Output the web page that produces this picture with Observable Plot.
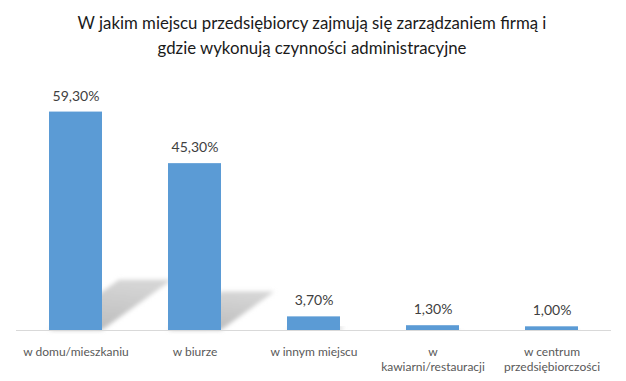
<!DOCTYPE html>
<html>
<head>
<meta charset="utf-8">
<script src="https://cdn.jsdelivr.net/npm/d3@7"></script>
<script src="https://cdn.jsdelivr.net/npm/@observablehq/plot@0.6"></script>
<style>
  html, body { margin: 0; padding: 0; background: #fff; }
  #wrap { position: relative; width: 626px; height: 381px; overflow: hidden; }
  #title { position: absolute; left: 0; top: 10px; width: 624px; text-align: center;
    font-family: Lato, "Open Sans", sans-serif; font-size: 16.8px; line-height: 25px; color: #1a1a1a; }
  #chart { position: absolute; left: 0; top: 72px; }
</style>
</head>
<body>
<div id="wrap">
  <div id="title">W jakim miejscu przedsiębiorcy zajmują się zarządzaniem firmą i<br>gdzie wykonują czynności administracyjne</div>
  <div id="chart"></div>
</div>
<script>
const categories = ["w domu/mieszkaniu", "w biurze", "w innym miejscu", "w kawiarni/restauracji", "w centrum przedsiębiorczości"];
const tickLabels = ["w domu/mieszkaniu", "w biurze", "w innym miejscu", "w\nkawiarni/restauracji", "w centrum\nprzedsiębiorczości"];
const values = [59.3, 45.3, 3.7, 1.3, 1.0];
const valueLabels = ["59,30%", "45,30%", "3,70%", "1,30%", "1,00%"];

const data = categories.map((c, i) => ({category: c, value: values[i], label: valueLabels[i]}));

function shadowMark(index, scales) {
  const g = d3.create("svg:g");
  const defs = g.append("defs");
  const f = defs.append("filter").attr("id", "shblur").attr("x", "-20%").attr("y", "-20%").attr("width", "140%").attr("height", "140%");
  f.append("feGaussianBlur").attr("stdDeviation", 2.2);
  const gr = defs.append("linearGradient").attr("id", "shgrad").attr("x1", 0).attr("y1", 1).attr("x2", 0.3).attr("y2", 0);
  gr.append("stop").attr("offset", "0%").attr("stop-color", "#bababa");
  gr.append("stop").attr("offset", "100%").attr("stop-color", "#d4d4d4");
  const bw = scales.x.bandwidth();
  const base = scales.y(0);
  for (const d of data) {
    const x0 = scales.x(d.category), x1 = x0 + bw;
    const h = base - scales.y(d.value);
    const sh = h * 0.23, shift = h * 0.32;
    const pts = [[x0, base], [x1, base], [x1 + shift, base - sh], [x0 + shift, base - sh]];
    g.append("polygon").attr("points", pts.map(p => p.join(",")).join(" "))
      .attr("fill", "url(#shgrad)").attr("filter", "url(#shblur)");
  }
  return g.node();
}

const chart = Plot.plot({
  width: 626,
  height: 309,
  marginLeft: 16,
  marginRight: 15,
  marginTop: 37,
  marginBottom: 51,
  style: {fontFamily: "Lato, 'Open Sans', sans-serif", background: "#fff"},
  x: {domain: categories, paddingInner: 0.555, paddingOuter: 0.277, label: null},
  y: {domain: [0, 60], axis: null},
  marks: [
    shadowMark,
    Plot.barY(data, {x: "category", y: "value", fill: "#5b9bd5"}),
    Plot.ruleY([0], {stroke: "#d9d9d9", strokeWidth: 1}),
    Plot.text(data, {x: "category", y: "value", text: "label", dy: -16, fontSize: 14, fill: "#404040"}),
    Plot.axisX({tickSize: 0, tickPadding: 14, fontSize: 12, fill: "#595959", lineAnchor: "top", lineHeight: 1.3,
      tickFormat: (d) => tickLabels[categories.indexOf(d)], label: null})
  ]
});
document.getElementById("chart").appendChild(chart);
</script>
</body>
</html>
